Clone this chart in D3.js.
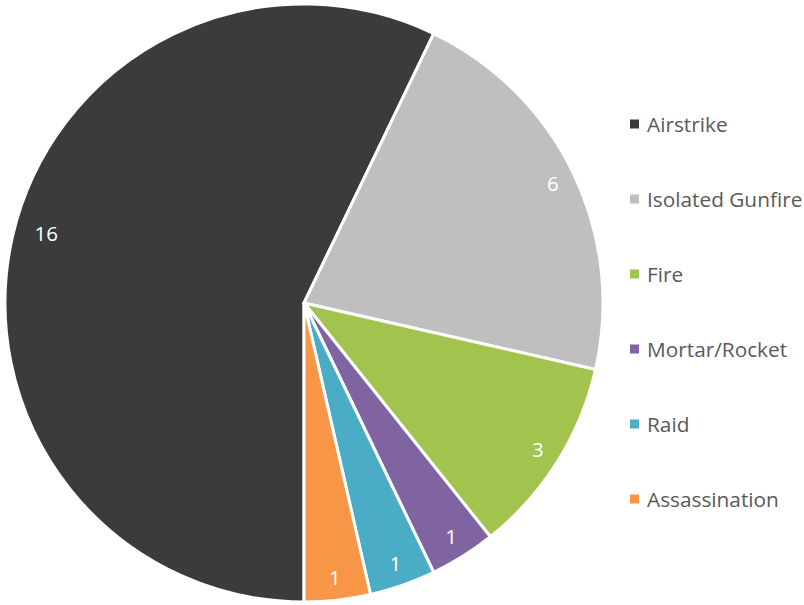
<!DOCTYPE html>
<html><head><meta charset="utf-8">
<script src="https://cdn.jsdelivr.net/npm/d3@7"></script>
<style>body{margin:0;background:#fff}svg{display:block}</style>
</head><body>
<svg id="c" width="804" height="605"></svg>
<script>
const categories = ["Airstrike","Isolated Gunfire","Fire","Mortar/Rocket","Raid","Assassination"];
const values = [16,6,3,1,1,1];
const colors = ["#3a3b3d","#bfbfbf","#a2c44e","#8064a2","#4bacc6","#f79646"];

const svg = d3.select("#c");
const cx = 304, cy = 303, r = 299;
const data = categories.map((c,i)=>({name:c,value:values[i],color:colors[i]}));
const pie = d3.pie().value(d=>d.value).sort(null).startAngle(Math.PI).endAngle(3*Math.PI);
const arcs = pie(data);
const arc = d3.arc().innerRadius(0).outerRadius(r);
const g = svg.append("g").attr("transform",`translate(${cx},${cy})`);
g.selectAll("path").data(arcs).join("path")
  .attr("d",arc).attr("fill",d=>d.data.color)
  .attr("stroke","#fff").attr("stroke-width",3).attr("stroke-linejoin","round");
function labelPos(d,i){
  // Excel best-fit: the large slice label sits a bit further in
  let a = (d.startAngle+d.endAngle)/2, rr = r*0.924;
  if(i===0){ a += 2.2*Math.PI/180; rr = r*0.893; }
  return [Math.sin(a)*rr, -Math.cos(a)*rr];
}
g.selectAll("text").data(arcs).join("text")
  .attr("transform",(d,i)=>`translate(${labelPos(d,i)})`)
  .attr("text-anchor","middle").attr("dy","0.36em")
  .attr("fill","#fff").attr("font-family","'Open Sans', sans-serif").attr("font-size",20.5)
  .text(d=>d.data.value);

const leg = svg.append("g");
const ly = d3.scalePoint().domain(categories).range([124,499]);
const items = leg.selectAll("g").data(data).join("g")
  .attr("transform",d=>`translate(630,${ly(d.name)})`);
items.append("rect").attr("x",0).attr("y",-4.5).attr("width",9).attr("height",9).attr("fill",d=>d.color);
items.append("text").attr("x",17).attr("dy","0.36em").attr("fill","#595959")
  .attr("font-family","'Open Sans', sans-serif").attr("font-size",20.8).text(d=>d.name);
</script>
</body></html>
